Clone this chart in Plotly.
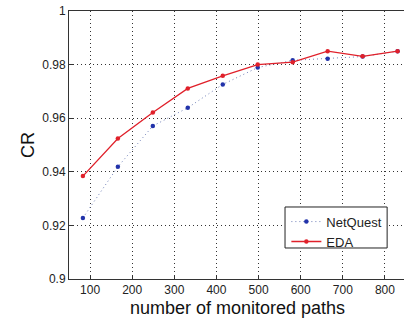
import plotly.graph_objects as go

paths = [83, 166, 249, 332, 415, 498, 581, 664, 747, 830]
netquest = [0.9228, 0.9419, 0.9571, 0.9639, 0.9726, 0.9789, 0.9816, 0.9822, 0.9830, 0.9850]
eda = [0.9384, 0.9524, 0.9621, 0.9711, 0.9758, 0.9800, 0.9809, 0.9850, 0.9831, 0.9850]
x_ticks = [100, 200, 300, 400, 500, 600, 700, 800]
y_ticks = [0.9, 0.92, 0.94, 0.96, 0.98, 1.0]
y_labels = ["0.9", "0.92", "0.94", "0.96", "0.98", "1"]

fig = go.Figure()
fig.add_trace(go.Scatter(
    x=paths, y=netquest, name="NetQuest", mode="lines+markers",
    line=dict(color="#7080b8", width=1, dash="1px,3px"),
    marker=dict(color="#2233aa", size=4.5),
))
fig.add_trace(go.Scatter(
    x=paths, y=eda, name="EDA", mode="lines+markers",
    line=dict(color="#e0202a", width=1.3),
    marker=dict(color="#e0202a", size=4.5),
))

# legend frame (white box with black border), drawn above the plot data
fig.add_shape(type="rect", xref="paper", yref="paper",
              x0=0.641, x1=0.944, y0=0.1157, y1=0.2687,
              fillcolor="white", line=dict(color="#222", width=1), layer="above")

font = "Liberation Sans, Arial, sans-serif"
fig.update_layout(
    width=406, height=326,
    margin=dict(l=69, r=0, t=11, b=47, autoexpand=False),
    paper_bgcolor="white", plot_bgcolor="white",
    font=dict(family=font, size=12, color="#222"),
    showlegend=True,
    legend=dict(
        x=0.645, y=0.270, xanchor="left", yanchor="top",
        bgcolor="rgba(0,0,0,0)", borderwidth=0,
        font=dict(size=13, color="#222"),
        tracegroupgap=0, itemwidth=30,
    ),
    xaxis=dict(
        range=[50, 850], tickvals=x_ticks, automargin=False,
        showline=True, linecolor="#333", linewidth=1, mirror=True,
        showgrid=True, gridcolor="#333", griddash="1px,3px", gridwidth=1,
        ticks="inside", ticklen=4, tickcolor="#333",
        zeroline=False,
        title=dict(text="number of monitored paths", font=dict(size=18, color="#111"), standoff=4),
    ),
    yaxis=dict(
        range=[0.9, 1.0], tickvals=y_ticks, ticktext=y_labels, automargin=False,
        showline=True, linecolor="#333", linewidth=1, mirror=True,
        showgrid=True, gridcolor="#333", griddash="1px,3px", gridwidth=1,
        ticks="inside", ticklen=4, tickcolor="#333",
        zeroline=False,
        title=dict(text="CR", font=dict(size=18, color="#111"), standoff=2),
    ),
)
fig.write_html("out.html", config={"displayModeBar": False},
               post_script="document.body.style.margin='0';document.body.style.overflow='hidden';")
